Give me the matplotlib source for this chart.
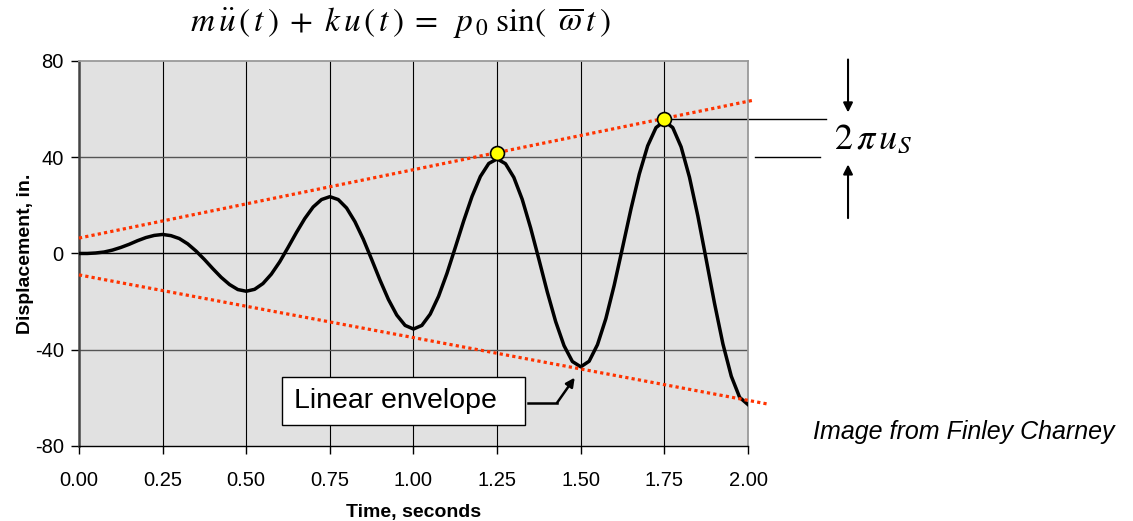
import numpy as np
import matplotlib
matplotlib.use("Agg")
import matplotlib.pyplot as plt
from matplotlib.patches import Rectangle

plt.rcParams['font.family'] = ['Liberation Sans', 'DejaVu Sans']
plt.rcParams['mathtext.fontset'] = 'stix'
plt.rcParams['axes.unicode_minus'] = False

# Data (time step 0.025 s)
time_s = np.linspace(0.0, 2.0, 81)
displacement = [
    0.0, 0.0, 0.2, 0.6, 1.4, 2.5, 3.8, 5.3, 6.6, 7.5,
    7.9, 7.4, 6.2, 4.0, 1.0, -2.5, -6.3, -9.9, -12.9, -15.0,
    -15.7, -14.9, -12.5, -8.6, -3.5, 2.5, 8.7, 14.5, 19.3, 22.4,
    23.6, 22.4, 18.9, 13.2, 5.9, -2.5, -11.1, -19.1, -25.6, -29.9,
    -31.4, -29.9, -25.2, -17.8, -8.3, 2.5, 13.5, 23.7, 32.0, 37.4,
    39.3, 37.3, 31.6, 22.5, 10.7, -2.5, -16.0, -28.3, -38.3, -44.9,
    -47.1, -44.8, -37.9, -27.1, -13.2, 2.5, 18.4, 33.0, 44.7, 52.3,
    55.0, 52.3, 44.3, 31.7, 15.6, -2.5, -20.8, -37.6, -51.0, -59.8,
    -62.8,
]

# envelope end points (time, displacement)
upper_env_t = [0.0, 2.02]
upper_env_u = [6.4, 63.8]
lower_env_t = [0.0, 2.06]
lower_env_u = [-8.9, -62.6]

# highlighted peaks on the upper envelope
peak_t = [1.25, 1.75]
peak_u = [41.8, 56.0]

fig = plt.figure(figsize=(11.33, 5.21), dpi=100)
ax = fig.add_axes([0.0697, 0.144, 0.5905, 0.739])
ax.set_facecolor('#e1e1e1')

ax.set_xlim(0, 2.0)
ax.set_ylim(-80, 80)
ax.set_xticks(np.arange(0, 2.01, 0.25))
ax.set_xticklabels([f"{v:.2f}" for v in np.arange(0, 2.01, 0.25)])
ax.set_yticks([-80, -40, 0, 40, 80])

# grid
for xv in np.arange(0.25, 2.0, 0.25):
    ax.axvline(xv, color='black', lw=0.8, zorder=1)
for yv in [-40, 40]:
    ax.axhline(yv, color='#555555', lw=1.0, zorder=1)
ax.axhline(0, color='black', lw=1.0, zorder=1)

ax.tick_params(axis='both', direction='out', length=6, width=1,
               labelsize=14.5, colors='black', pad=5)
ax.tick_params(axis='x', pad=12)
ax.spines['left'].set_color('#444444')
ax.spines['left'].set_linewidth(1.8)
ax.spines['bottom'].set_color('black')
ax.spines['bottom'].set_linewidth(1.0)
for s in ['top', 'right']:
    ax.spines[s].set_color('#9a9a9a')
    ax.spines[s].set_linewidth(1.3)

# response curve
ax.plot(time_s, displacement, color='black', lw=2.5, zorder=3)

# linear envelopes
ax.plot(upper_env_t, upper_env_u, color='#ff3300', lw=2.3,
        linestyle=(0, (1, 1)), clip_on=False, zorder=4)
ax.plot(lower_env_t, lower_env_u, color='#ff3300', lw=2.3,
        linestyle=(0, (1, 1)), clip_on=False, zorder=4)

ax.plot(peak_t, peak_u, 'o', ms=10, mfc='#ffff00', mec='black', mew=1.2,
        zorder=5, clip_on=False)

ax.set_xlabel('Time, seconds', fontsize=14, fontweight='bold')
ax.set_ylabel('Displacement, in.', fontsize=14, fontweight='bold')
ax.xaxis.set_label_coords(0.5, -0.151)
ax.yaxis.set_label_coords(-0.067, 0.5)

# equation title
fig.text(0.353, 0.957,
         r'$m\,\ddot{u}\,(\,t\,)\;+\;k\,u\,(\,t\,)\;=\;\;p_{\,0}\;\mathrm{sin}(\;\;\overline{\omega}\,t\,)$',
         fontsize=24, ha='center', va='center')

# 2 pi u_s dimension marker
ax.plot([1.75, 2.233], [55.9, 55.9], color='black', lw=1.0, clip_on=False, zorder=2)
ax.plot([2.02, 2.215], [40.1, 40.1], color='black', lw=1.0, clip_on=False, zorder=2)
ax.annotate('', xy=(2.299, 58.6), xytext=(2.299, 80.6),
            arrowprops=dict(arrowstyle='-|>', color='black', lw=1.5,
                            mutation_scale=14, shrinkA=0, shrinkB=0),
            annotation_clip=False)
ax.annotate('', xy=(2.299, 37.0), xytext=(2.299, 14.7),
            arrowprops=dict(arrowstyle='-|>', color='black', lw=1.5,
                            mutation_scale=14, shrinkA=0, shrinkB=0),
            annotation_clip=False)
ax.text(2.374, 47.2, r'$2\,\pi\,u_S$', fontsize=26, ha='center', va='center',
        clip_on=False)

# Linear envelope label
ax.add_patch(Rectangle((0.607, -71.3), 0.726, 20.0, facecolor='white',
                       edgecolor='black', lw=1.0, zorder=6))
ax.text(0.643, -61.3, 'Linear envelope', fontsize=20.5, ha='left', va='center',
        zorder=7)
ax.plot([1.342, 1.429], [-62.1, -62.1], color='black', lw=1.8, zorder=6)
ax.annotate('', xy=(1.482, -51.6), xytext=(1.429, -62.1),
            arrowprops=dict(arrowstyle='-|>', color='black', lw=1.8,
                            mutation_scale=13, shrinkA=0, shrinkB=0),
            zorder=6)

fig.text(0.984, 0.17, 'Image from Finley Charney', fontsize=18,
         style='italic', ha='right', va='center')

fig.savefig('out.png', dpi=100)
